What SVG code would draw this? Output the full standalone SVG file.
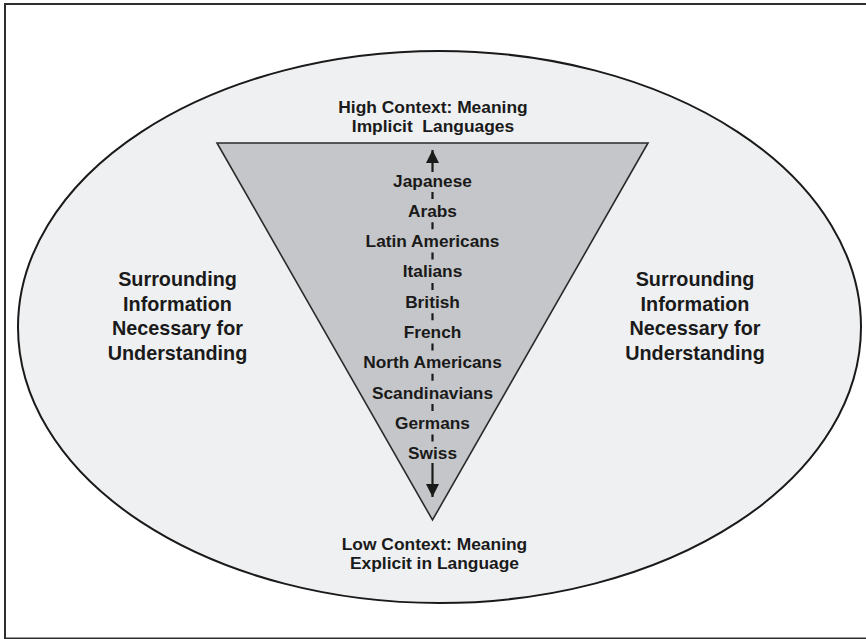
<svg xmlns="http://www.w3.org/2000/svg" width="866" height="639" viewBox="0 0 866 639">
<defs>
<style>
text{font-family:"Liberation Sans",Arial,sans-serif;font-weight:bold;fill:#1a1a1a;text-anchor:middle}
.c{font-size:17.3px}
.s{font-size:19.8px}
.h{font-size:17.4px}
.dash{stroke:#1a1a1a;stroke-width:2.2;fill:none}
</style>
<marker id="ah" viewBox="0 0 10 10" refX="10" refY="5" markerWidth="13" markerHeight="13" markerUnits="userSpaceOnUse" orient="auto">
<path d="M0,0 L10,5 L0,10 Z" fill="#1a1a1a"/>
</marker>
</defs>
<rect x="0" y="0" width="866" height="639" fill="#ffffff"/>
<rect x="5" y="4" width="900" height="634.5" fill="none" stroke="#2e2e2e" stroke-width="2"/>
<g id="context-ellipse">
<ellipse cx="439.5" cy="327" rx="421.5" ry="276" fill="#eff0f2" stroke="#1a1a1a" stroke-width="2"/>
</g>
<g id="triangle">
<polygon points="217,143 648,143 432.5,520" fill="#c5c6c9" stroke="#2a2a2a" stroke-width="1.6"/>
</g>
<g id="connectors">
<line class="dash" x1="432.5" y1="172" x2="432.5" y2="150" marker-end="url(#ah)"/>
<line class="dash" x1="432.5" y1="463" x2="432.5" y2="497" marker-end="url(#ah)"/>
<path class="dash" d="M432.5,192v7M432.5,222.3v7M432.5,252.6v7M432.5,282.9v7M432.5,313.2v7M432.5,343.5v7M432.5,373.8v7M432.5,404.1v7M432.5,434.4v7"/>
</g>
<g id="high-context">
<text class="h" x="433" y="112.5">High Context: Meaning</text>
<text class="h" x="433" y="131.5" xml:space="preserve">Implicit  Languages</text>
</g>
<g id="low-context">
<text class="h" x="434.5" y="550">Low Context: Meaning</text>
<text class="h" x="434.5" y="568.5">Explicit in Language</text>
</g>
<g id="countries">
<text class="c" x="432.5" y="186.5">Japanese</text>
<text class="c" x="432.5" y="216.8">Arabs</text>
<text class="c" x="432.5" y="247.1">Latin Americans</text>
<text class="c" x="432.5" y="277.4">Italians</text>
<text class="c" x="432.5" y="307.7">British</text>
<text class="c" x="432.5" y="338">French</text>
<text class="c" x="432.5" y="368.3">North Americans</text>
<text class="c" x="432.5" y="398.6">Scandinavians</text>
<text class="c" x="432.5" y="428.9">Germans</text>
<text class="c" x="432.5" y="459.2">Swiss</text>
</g>
<g id="left-info">
<text class="s" x="177.5" y="286">Surrounding</text>
<text class="s" x="177.5" y="310.5">Information</text>
<text class="s" x="177.5" y="335">Necessary for</text>
<text class="s" x="177.5" y="359.5">Understanding</text>
</g>
<g id="right-info">
<text class="s" x="695" y="286">Surrounding</text>
<text class="s" x="695" y="310.5">Information</text>
<text class="s" x="695" y="335">Necessary for</text>
<text class="s" x="695" y="359.5">Understanding</text>
</g>
</svg>
